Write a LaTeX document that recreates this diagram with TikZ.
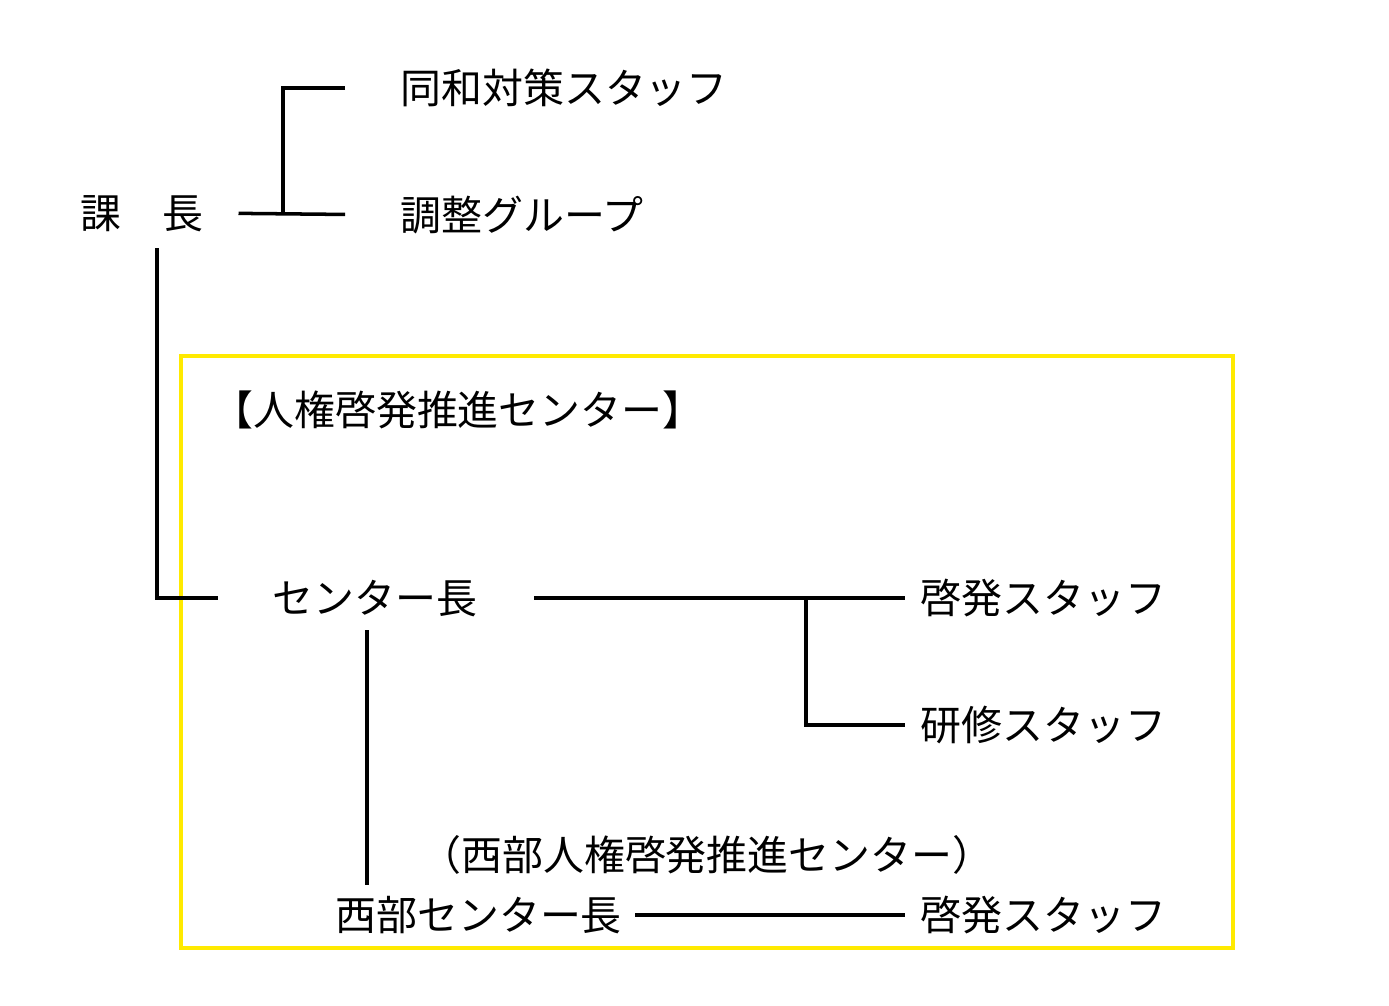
\documentclass[tikz,border=0pt]{standalone}
\usepackage{fontspec}
\newfontfamily\jp{Noto Sans CJK JP}
\definecolor{boxyellow}{RGB}{255,234,0}
\begin{document}
\begin{tikzpicture}[x=0.02cm, y=-0.02cm,
    unit/.style={anchor=west, inner sep=0pt, text height=20.5pt, text depth=2.8pt,
      font=\jp\fontsize{23.3}{28}\selectfont},
    link/.style={line width=2pt}]
    \useasboundingbox (0,0) rectangle (1389,1005);
    % Section head and its two branches
    \node[unit] (kacho)  at (80,213)  {課　長};
    \node[unit] (dowa)   at (400,88)  {同和対策スタッフ};
    \node[unit] (chosei) at (400,215) {調整グループ};
    % Centre box
    \draw[boxyellow, line width=2.2pt] (181,356) rectangle (1233,948);
    \node[unit] (ctitle)  at (212,410) {【人権啓発推進センター】};
    \node[unit] (cchief)  at (272,598) {センター長};
    \node[unit] (keihatsuA) at (920,598) {啓発スタッフ};
    \node[unit] (kenshu)  at (920,725) {研修スタッフ};
    \node[unit] (wtitle)  at (420,855) {（西部人権啓発推進センター）};
    \node[unit] (wchief)  at (335,915) {西部センター長};
    \node[unit] (keihatsuB) at (920,915) {啓発スタッフ};
    % Junctions
    \coordinate (jA) at (283,213);
    \coordinate (jB) at (157,248);
    \coordinate (jC) at (806,598);
    \coordinate (jD) at (367,0);
    % Section head to its staff
    \draw[link, shorten <=0.7cm, shorten >=1.1cm] (kacho.east) -- (chosei.west);
    \draw[link, shorten <=1.1cm] (dowa.west) -- (dowa.west -| jA) -- (jA);
    % Section head down to the centre chief
    \draw[link, shorten >=1.08cm] (jB) |- (cchief.west);
    % Centre chief to its staff
    \draw[link, shorten <=1.14cm, shorten >=0.3cm] (cchief.east) -- (keihatsuA.west);
    \draw[link, shorten >=0.3cm] (jC) |- (kenshu.west);
    % Centre chief down to the west centre chief
    \draw[link, shorten <=0.23cm, shorten >=0.19cm] (cchief.south -| jD) -- (wchief.north -| jD);
    \draw[link, shorten <=0.26cm, shorten >=0.3cm] (wchief.east) -- (keihatsuB.west);
  \end{tikzpicture}
\end{document}
